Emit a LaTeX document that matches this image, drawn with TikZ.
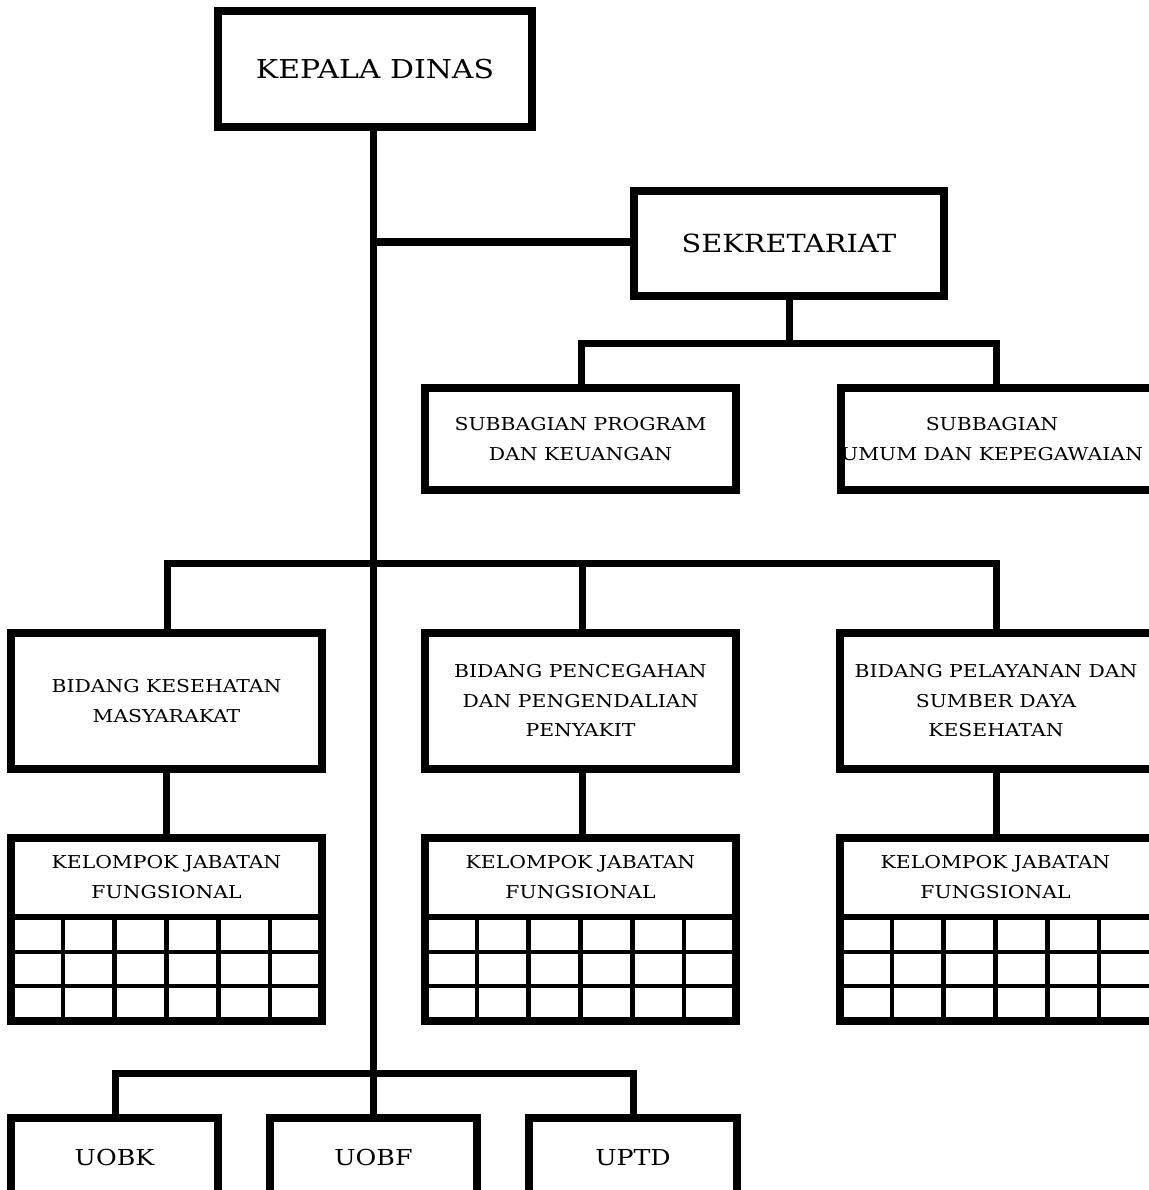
\documentclass[tikz,border=0pt]{standalone}
\usepackage{fontspec}
\setmainfont{DejaVu Serif}[FakeStretch=1.15]
\usetikzlibrary{calc}
\begin{document}
\begin{tikzpicture}[x=1pt,y=-1pt,
  box/.style={draw=black,line width=7.5pt,fill=white,inner sep=0pt,outer sep=0pt,align=center},
  lbl/.style={inner sep=0pt,align=center},
  huge/.style={font=\fontsize{26}{30}\selectfont},
  big/.style={font=\fontsize{25}{30}\selectfont},
  unit/.style={font=\fontsize{22}{28}\selectfont,text height=16pt,text depth=0pt},
  small/.style={font=\fontsize{17.7}{29.5}\selectfont},
  conn/.style={draw=black,line width=7pt},
  gridln/.style={draw=black,line width=4.5pt},
]
\useasboundingbox (0,0) rectangle (1148,1190);
\fill[white] (0,0) rectangle (1148,1190);

\coordinate (tb) at (373,1073);
\coordinate (ts) at (373,242);
\coordinate (sb) at (789,343);
\coordinate (bl) at (115,1073);
\coordinate (br) at (633,1073);
\coordinate (ml) at (167,563);
\coordinate (mm) at (582,563);
\coordinate (mr) at (996,563);
\coordinate (sl) at (581,343);
\coordinate (sr) at (996,343);

% boxes
\node[box,huge,minimum width=314pt,minimum height=116pt] (kd) at (375,69) {KEPALA DINAS};
\node[box,big,minimum width=310pt,minimum height=105pt] (sek) at (789,243.5) {SEKRETARIAT};
\node[box,small,minimum width=311pt,minimum height=102pt] (sp) at (580.5,439) {SUBBAGIAN PROGRAM\\DAN KEUANGAN};
\node[box,minimum width=318pt,minimum height=102pt] (su) at (1000,439) {};
\node[lbl,small] (sut) at (992,439) {SUBBAGIAN\\UMUM DAN KEPEGAWAIAN};
\node[box,small,minimum width=311pt,minimum height=136pt] (b1) at (166.5,701) {BIDANG KESEHATAN\\MASYARAKAT};
\node[box,small,minimum width=311pt,minimum height=136pt] (b2) at (580.5,701) {BIDANG PENCEGAHAN\\DAN PENGENDALIAN\\PENYAKIT};
\node[box,minimum width=318pt,minimum height=136pt] (b3) at (999,701) {};
\node[lbl,small] (b3t) at (996,701) {BIDANG PELAYANAN DAN\\SUMBER DAYA\\KESEHATAN};

\foreach \n/\cx/\w/\tx in {k1/166.5/311/166.5,k2/580.5/311/580.5,k3/999/318/995.5}{
  \node[box,minimum width=\w pt,minimum height=183pt] (\n) at (\cx,929.5) {};
  \draw[gridln] ($(\n.west)+(0,22.5)$) -- ($(\n.east)+(0,22.5)$);
  \draw[gridln] ($(\n.west)+(0,56.5)$) -- ($(\n.east)+(0,56.5)$);
  \foreach \i in {1,...,5}{
    \draw[gridln] ($(\n.south west)+(\i*51.83,0)$) -- ($(\n.south west)+(\i*51.83,-105)$);
  }
  \draw[line width=6.5pt] ($(\n.west)+(0,-12.5)$) -- ($(\n.east)+(0,-12.5)$);
  \draw[line width=7.5pt] (\n.south west) rectangle (\n.north east);
  \node[lbl,small] (\n t) at (\tx,877) {KELOMPOK JABATAN\\FUNGSIONAL};
}

\node[box,unit,minimum width=207pt,minimum height=78pt] (u1) at (114.5,1157) {UOBK};
\node[box,unit,minimum width=207pt,minimum height=78pt] (u2) at (373.5,1157) {UOBF};
\node[box,unit,minimum width=208pt,minimum height=78pt] (u3) at (633,1157) {UPTD};

% connectors
\draw[conn] (ts |- kd.south) -- (tb);
\draw[conn] (ts) -- (sek.west |- ts);
\draw[conn] (sek.south) -- (sb);
\draw[conn] ([xshift=-3.5pt]sl) -- ([xshift=3.5pt]sr);
\draw[conn] (sl) -- (sl |- sp.north);
\draw[conn] (sr) -- (sr |- su.north);
\draw[conn] ([xshift=-3.5pt]ml) -- ([xshift=3.5pt]mr);
\draw[conn] (ml) -- (ml |- b1.north);
\draw[conn] (mm) -- (mm |- b2.north);
\draw[conn] (mr) -- (mr |- b3.north);
\draw[conn] (b1.south) -- (k1.north);
\draw[conn] (mm |- b2.south) -- (mm |- k2.north);
\draw[conn] (mr |- b3.south) -- (mr |- k3.north);
\draw[conn] ([xshift=-3.5pt]bl) -- ([xshift=3.5pt]br);
\draw[conn] (bl) -- (bl |- u1.north);
\draw[conn] (tb) -- (tb |- u2.north);
\draw[conn] (br) -- (br |- u3.north);
\end{tikzpicture}
\end{document}
